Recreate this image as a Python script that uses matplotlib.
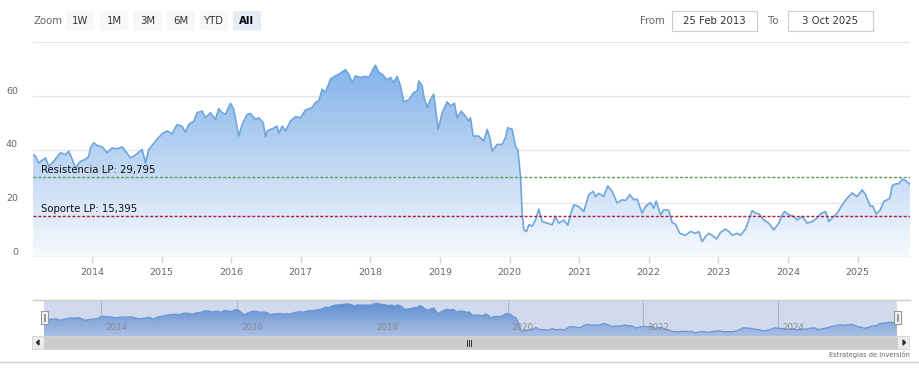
import numpy as np
import matplotlib
matplotlib.use('Agg')
import matplotlib.pyplot as plt
from matplotlib.patches import Rectangle, FancyBboxPatch, Polygon
from matplotlib.lines import Line2D

W, H = 920, 377

# ---------------- data ----------------
dates = [
    2013.153, 2013.188, 2013.236, 2013.332, 2013.379, 2013.451, 2013.547, 2013.619, 2013.667, 2013.716,
    2013.763, 2013.835, 2013.907, 2013.954, 2013.978, 2014.026, 2014.075, 2014.147, 2014.218, 2014.290,
    2014.362, 2014.434, 2014.481, 2014.553, 2014.601, 2014.672, 2014.721, 2014.769, 2014.816, 2014.912,
    2015.009, 2015.080, 2015.152, 2015.224, 2015.296, 2015.343, 2015.391, 2015.463, 2015.511, 2015.583,
    2015.631, 2015.703, 2015.774, 2015.822, 2015.871, 2015.918, 2015.990, 2016.037, 2016.109, 2016.158,
    2016.230, 2016.277,
    2016.349, 2016.397, 2016.460, 2016.493, 2016.517, 2016.589, 2016.661, 2016.684, 2016.733, 2016.780,
    2016.852, 2016.924, 2016.996, 2017.068, 2017.164, 2017.211, 2017.259, 2017.307, 2017.355, 2017.427,
    2017.499, 2017.570, 2017.642, 2017.690, 2017.739, 2017.786, 2017.858, 2017.930, 2017.977, 2018.026,
    2018.073, 2018.121, 2018.170, 2018.241, 2018.289, 2018.336, 2018.385, 2018.433, 2018.480, 2018.552,
    2018.624, 2018.672, 2018.695, 2018.744, 2018.767, 2018.816, 2018.863, 2018.911, 2018.974, 2019.032,
    2019.103, 2019.151, 2019.208, 2019.247, 2019.305, 2019.366, 2019.414,
    2019.438, 2019.477, 2019.557, 2019.629, 2019.678, 2019.716, 2019.750, 2019.822, 2019.894, 2019.941,
    2019.974, 2020.037, 2020.085, 2020.118, 2020.157, 2020.181, 2020.204, 2020.243, 2020.276, 2020.325,
    2020.372, 2020.420, 2020.468, 2020.540, 2020.612, 2020.659, 2020.707, 2020.779, 2020.836, 2020.875,
    2020.922, 2020.994, 2021.066, 2021.138, 2021.201, 2021.234, 2021.282, 2021.353, 2021.411, 2021.474,
    2021.546, 2021.618, 2021.665, 2021.727, 2021.784, 2021.833, 2021.905, 2021.953, 2022.024, 2022.072,
    2022.106, 2022.168, 2022.216, 2022.287, 2022.336, 2022.384, 2022.445, 2022.527, 2022.599,
    2022.671, 2022.718, 2022.767, 2022.815, 2022.862, 2022.911, 2022.973, 2023.030, 2023.102, 2023.150,
    2023.198, 2023.270, 2023.318, 2023.390, 2023.437, 2023.486, 2023.534, 2023.581, 2023.653, 2023.725,
    2023.796, 2023.868, 2023.917, 2023.954, 2024.011, 2024.083, 2024.132, 2024.204, 2024.276, 2024.348,
    2024.419, 2024.467, 2024.539, 2024.586, 2024.658, 2024.707, 2024.779, 2024.851, 2024.922, 2024.994,
    2025.066, 2025.114, 2025.185, 2025.218, 2025.267, 2025.329, 2025.376, 2025.425, 2025.463, 2025.497,
    2025.545, 2025.592, 2025.641, 2025.688, 2025.753,
]
values = [
    38.1, 37.5, 35.0, 36.9, 33.8, 35.6, 38.8, 38.1, 39.4, 36.3,
    33.2, 35.6, 36.3, 37.5, 40.6, 42.5, 41.5, 41.0, 38.8, 40.6,
    40.2, 41.0, 39.4, 36.9, 37.5, 39.0, 40.0, 35.0, 40.0, 43.1,
    45.9, 46.9, 45.9, 49.3, 48.6, 46.5, 49.3, 50.6, 53.7, 54.3,
    51.8, 53.7, 51.2, 55.2, 53.7, 53.1, 57.2, 55.0, 45.0, 49.3,
    53.1, 53.4,
    51.2, 51.8, 50.0, 44.7, 46.9, 47.7, 48.7, 46.0, 48.7, 46.9,
    50.6, 52.2, 51.8, 54.7, 55.6, 57.5, 58.1, 62.4, 61.2, 66.2,
    67.4, 68.4, 69.7, 68.0, 64.9, 67.4, 66.8, 67.2, 66.8, 69.3,
    71.4, 68.7, 68.0, 65.9, 66.8, 64.9, 67.2, 63.7, 57.7, 58.5,
    61.2, 61.7, 65.5, 63.7, 59.9, 55.6, 58.5, 60.6, 47.5, 53.7,
    57.7, 56.2, 57.2, 51.8, 54.3, 52.4, 50.6,
    51.8, 45.0, 45.0, 43.1, 47.5, 44.4, 39.4, 41.9, 41.9, 44.4,
    48.1, 47.5, 41.2, 40.0, 30.0, 16.3, 10.1, 9.5, 12.0, 11.5,
    13.8, 17.8, 13.2, 12.6, 12.0, 15.1, 12.6, 13.8, 11.8, 15.7,
    19.4, 18.8, 16.9, 23.2, 24.4, 22.5, 23.7, 22.5, 26.5, 24.4,
    20.1, 21.3, 21.0, 23.2, 21.3, 21.5, 16.3, 18.8, 20.3, 18.2,
    20.8, 15.7, 17.6, 17.3, 12.8, 12.2, 8.8, 8.1, 9.5,
    8.8, 9.5, 5.7, 7.6, 8.8, 8.1, 6.7, 9.1, 10.4, 9.5,
    8.1, 8.8, 8.1, 10.4, 13.8, 17.3, 16.3, 16.1, 13.8, 12.6,
    10.1, 12.6, 15.7, 16.9, 15.7, 15.1, 13.8, 15.1, 12.6, 13.2,
    14.5, 16.1, 16.9, 13.2, 15.1, 16.3, 19.4, 21.9, 23.8, 22.5,
    25.0, 23.2, 18.8, 19.0, 16.0, 17.6, 20.7, 21.3, 21.9, 26.5,
    27.2, 27.3, 29.0, 28.5, 27.0,
]
resistencia = 29.795
soporte = 15.395
resistencia_label = 'Resistencia LP: 29,795'
soporte_label = 'Soporte LP: 15,395'
year_ticks = list(range(2014, 2026))
nav_year_ticks = [2014, 2016, 2018, 2020, 2022, 2024]
y_ticks = [0, 20, 40, 60, 80]
y_labels = ['0', '20', '40', '60']
zoom_buttons = ['1W', '1M', '3M', '6M', 'YTD', 'All']
selected_button = 'All'
date_from = '25 Feb 2013'
date_to = '3 Oct 2025'
x_start, x_end = 2013.153, 2025.753
credit = 'Estrategias de Inversión'

plt.rcParams['font.family'] = ['DejaVu Sans']

fig = plt.figure(figsize=(W / 100, H / 100), dpi=100)
fig.patch.set_facecolor('white')


def fx(x):
    return x / W


def fy(y):
    return 1 - y / H


def gradient_fill(ax, x, y, y0, y1, top_rgb, bot_rgb, zorder):
    poly = ax.fill_between(x, y, y0, color='none', lw=0)
    path = poly.get_paths()[0]
    n = 256
    t = np.linspace(0, 1, n)[:, None]
    top = np.array(top_rgb) / 255.0
    bot = np.array(bot_rgb) / 255.0
    img = np.zeros((n, 1, 3))
    img[:, 0, :] = top + (bot - top) * t
    im = ax.imshow(img, extent=[min(x), max(x), y0, y1], aspect='auto',
                   origin='upper', zorder=zorder, interpolation='bilinear')
    im.set_clip_path(path, transform=ax.transData)
    return im


# ---------------- main chart ----------------
ax = fig.add_axes([fx(33), fy(257), (910 - 33) / W, (257 - 42) / H])
ax.set_facecolor('white')
for s in ax.spines.values():
    s.set_visible(False)
for v in y_ticks[1:]:
    ax.axhline(v, color='#e6e6e6', lw=1, zorder=0)
ax.axhline(0, color='#ccd6eb', lw=1, zorder=4)

gradient_fill(ax, dates, values, 0, 80, (118, 170, 230), (247, 250, 254), 1)
ax.plot(dates, values, color='#6ea6de', lw=1.2, zorder=3, solid_joinstyle='round')

ax.axhline(resistencia, color='#5e9a5e', lw=1.0, dashes=(2.2, 1.3), zorder=5)
ax.axhline(soporte, color='#b0203c', lw=1.0, dashes=(2.2, 1.3), zorder=5)
ax.annotate(resistencia_label, xy=(8 / 877, resistencia), xycoords=ax.get_yaxis_transform(),
            xytext=(0, 2.6), textcoords='offset points', ha='left', va='baseline',
            fontsize=7.3, color='#111111', zorder=6)
ax.annotate(soporte_label, xy=(8 / 877, soporte), xycoords=ax.get_yaxis_transform(),
            xytext=(0, 2.6), textcoords='offset points', ha='left', va='baseline',
            fontsize=7.3, color='#111111', zorder=6)

ax.set_xlim(x_start, x_end)
ax.set_ylim(0, 80)
ax.set_yticks([])
ax.set_xticks(year_ticks)
ax.set_xticklabels([str(y) for y in year_ticks])
ax.tick_params(axis='x', length=4, width=1, color='#ccd6eb', labelsize=6.8,
               labelcolor='#666666', pad=4)
for v, lbl in zip(y_ticks, y_labels):
    ax.annotate(lbl, xy=(-15 / 877, v), xycoords=ax.get_yaxis_transform(),
                xytext=(0, 3.4), textcoords='offset points', ha='right', va='center',
                fontsize=6.8, color='#666666')

# ---------------- navigator ----------------
nav = fig.add_axes([fx(44), fy(336), (897 - 44) / W, 36 / H])
nav.set_facecolor('white')
for s in nav.spines.values():
    s.set_visible(False)
nav.set_xlim(x_start, x_end)
nav.set_ylim(-1, 78)
for yr in nav_year_ticks:
    nav.axvline(yr, color='#c9cbd6', lw=0.8, zorder=0)
gradient_fill(nav, dates, values, -1, 78, (84, 140, 214), (200, 218, 244), 1)
nav.plot(dates, values, color='#6a9fdc', lw=0.9, zorder=2)
nav.add_patch(Rectangle((0, 0), 1, 1, transform=nav.transAxes, color=(102 / 255, 133 / 255, 194 / 255),
                        alpha=0.3, lw=0, zorder=3))
nav.set_xticks([])
nav.set_yticks([])
for yr in nav_year_ticks:
    nav.annotate(str(yr), xy=(yr, 0), xycoords=nav.get_xaxis_transform(), xytext=(3, 3),
                 textcoords='offset points', ha='left', va='bottom', fontsize=6.8,
                 color='#8a8a8a', fontstretch='condensed', zorder=4)

# navigator top outline
fig.add_artist(Line2D([fx(33), fx(910)], [fy(300), fy(300)], color='#cccccc', lw=1))

# handles
for hx in (41, 894):
    fig.add_artist(Rectangle((fx(hx), fy(324)), 7 / W, 13.5 / H, facecolor='#f2f2f2',
                             edgecolor='#999999', lw=0.8, zorder=10))
    for dx in (2.7, 4.3):
        fig.add_artist(Line2D([fx(hx + dx), fx(hx + dx)], [fy(321), fy(314)], color='#888888',
                              lw=0.6, zorder=11))

# scrollbar
fig.add_artist(Rectangle((fx(44), fy(349)), (897 - 44) / W, 13 / H, facecolor='#cccccc',
                         edgecolor='#cccccc', lw=0.5))
for bx in (32, 897):
    fig.add_artist(Rectangle((fx(bx), fy(349)), 12 / W, 13 / H, facecolor='#ebebeb',
                             edgecolor='#cccccc', lw=0.5))
fig.add_artist(Polygon([[fx(36.5), fy(342.5)], [fx(39), fy(340)], [fx(39), fy(345)]],
                       closed=True, color='#333333'))
fig.add_artist(Polygon([[fx(905.5), fy(342.5)], [fx(903), fy(340)], [fx(903), fy(345)]],
                       closed=True, color='#333333'))
for gx in (467, 469, 471):
    fig.add_artist(Line2D([fx(gx), fx(gx)], [fy(339.5), fy(345.5)], color='#333333', lw=0.7))

# credit & bottom line
fig.text(fx(910), fy(354), credit, ha='right', va='center', fontsize=5.3, color='#666666',
         fontstretch='condensed')
fig.add_artist(Line2D([0, 1], [fy(362), fy(362)], color='#cccccc', lw=1))

# ---------------- range selector ----------------
fig.text(fx(33), fy(20.5), 'Zoom', ha='left', va='center', fontsize=7.3, color='#666666')
btn_x = [66, 100, 133, 167, 200, 233]
btn_w = [28, 28, 29, 28, 28, 28]
for bx, bw, lbl in zip(btn_x, btn_w, zoom_buttons):
    sel = (lbl == selected_button)
    fig.add_artist(FancyBboxPatch((fx(bx), fy(30.5)), bw / W, 19.5 / H,
                                  boxstyle='round,pad=0,rounding_size=0.003',
                                  facecolor='#e6ebf5' if sel else '#f7f7f7', edgecolor='none'))
    fig.text(fx(bx + bw / 2), fy(20.5), lbl, ha='center', va='center', fontsize=7.3,
             color='#000000' if sel else '#333333', fontweight='bold' if sel else 'normal')

fig.text(fx(640), fy(20.5), 'From', ha='left', va='center', fontsize=7.3, color='#666666')
fig.text(fx(768), fy(20.5), 'To', ha='left', va='center', fontsize=7.3, color='#666666')
for bx0, bx1, txt in ((672, 757, date_from), (788, 873, date_to)):
    fig.add_artist(Rectangle((fx(bx0), fy(31)), (bx1 - bx0) / W, 20 / H, facecolor='white',
                             edgecolor='#cccccc', lw=0.8))
    fig.text(fx((bx0 + bx1) / 2), fy(20.5), txt, ha='center', va='center', fontsize=7.3,
             color='#333333')

fig.savefig('out.png', dpi=100)
